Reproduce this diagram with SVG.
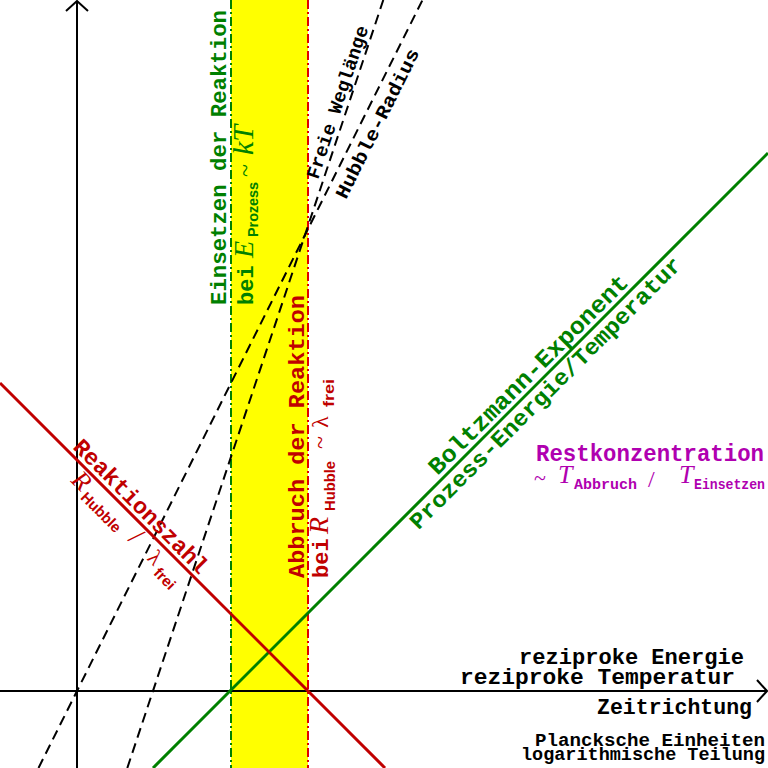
<svg xmlns="http://www.w3.org/2000/svg" width="768" height="768" viewBox="0 0 768 768">
<style>
.m{font-family:"Liberation Mono","Courier New",monospace;font-weight:bold;font-size:22px}
.ms{font-family:"Liberation Mono","Courier New",monospace;font-weight:bold;font-size:15px}
.si{font-family:"Liberation Serif","Times New Roman",serif;font-style:italic;font-size:26px}
.s{font-family:"Liberation Serif","Times New Roman",serif;font-size:24px}
.sub{font-family:"Liberation Sans",Arial,sans-serif;font-weight:bold;font-size:14px}
.g{fill:#008000}.r{fill:#c00000}.k{fill:#000}.p{fill:#b000b0}
.ax{stroke:#000;stroke-width:2;fill:none}
.dash{stroke:#000;stroke-width:2;stroke-dasharray:10,6;fill:none}
</style>
<rect x="0" y="0" width="768" height="768" fill="#fff"/>
<g id="band">
<rect x="231" y="0" width="77" height="768" fill="#ffff00"/>
</g>
<g id="connectors">
<line x1="231" y1="0" x2="231" y2="768" stroke="#008000" stroke-width="2" stroke-dasharray="9,3,2,3"/>
<line x1="308" y1="0" x2="308" y2="768" stroke="#e00000" stroke-width="2" stroke-dasharray="9,3,2,3"/>
<line class="ax" x1="77" y1="768" x2="77" y2="1"/>
<polyline class="ax" points="66,11 77,1 88,11"/>
<line class="ax" x1="0" y1="691" x2="767" y2="691"/>
<polyline class="ax" points="757,680 767,691 757,702"/>
<line class="dash" x1="38.5" y1="768" x2="422.5" y2="0"/>
<line class="dash" x1="127.3" y1="768" x2="383.3" y2="0"/>
<line x1="153" y1="768" x2="768" y2="153" stroke="#008000" stroke-width="3"/>
<line x1="0" y1="383" x2="385" y2="768" stroke="#c00000" stroke-width="3"/>
</g>
<g id="einsetzen" transform="translate(226,305) rotate(-90)">
<text class="m g" x="0" y="0" textLength="295" lengthAdjust="spacingAndGlyphs">Einsetzen der Reaktion</text>
</g>
<g id="einsetzen-bei" transform="translate(253,305) rotate(-90)">
<text class="m g" x="0" y="0">bei</text>
<text class="si g" x="47" y="0" style="font-size:28px">E</text>
<text class="sub g" x="68" y="5" textLength="55" lengthAdjust="spacingAndGlyphs">Prozess</text>
<text class="s g" x="128" y="0">~</text>
<text class="si g" x="150" y="0" style="font-size:30px">kT</text>
</g>
<g id="abbruch" transform="translate(304,578) rotate(-90)">
<text class="m r" x="0" y="0" textLength="283" lengthAdjust="spacingAndGlyphs">Abbruch der Reaktion</text>
</g>
<g id="abbruch-bei" transform="translate(328,578) rotate(-90)">
<text class="m r" x="0" y="0">bei</text>
<text class="si r" x="44" y="0" style="font-size:28px">R</text>
<text class="sub r" x="67" y="7" textLength="50" lengthAdjust="spacingAndGlyphs">Hubble</text>
<text class="s r" x="129" y="0">~</text>
<text class="s r" x="150" y="0">λ</text>
<text class="sub r" x="171" y="6" textLength="28" lengthAdjust="spacingAndGlyphs">frei</text>
</g>
<g id="freie-weglaenge" transform="translate(318,180) rotate(-71.57)">
<text class="m k" x="0" y="0" style="font-size:19px" textLength="160" lengthAdjust="spacingAndGlyphs">Freie Weglänge</text>
</g>
<g id="hubble-radius" transform="translate(346,200) rotate(-63.43)">
<text class="m k" x="0" y="0" style="font-size:19px" textLength="165" lengthAdjust="spacingAndGlyphs">Hubble-Radius</text>
</g>
<g id="reaktionszahl" transform="translate(77,460) rotate(45)">
<text class="m r" x="-12" y="-5" style="font-size:23px" textLength="180" lengthAdjust="spacingAndGlyphs">Reaktionszahl</text>
<text class="si r" x="10" y="20" style="font-size:26px">R</text>
<text class="sub r" x="29" y="25" style="font-size:15px" textLength="50" lengthAdjust="spacingAndGlyphs">Hubble</text>
<text class="s r" x="92" y="21" style="font-size:28px">/</text>
<text class="s r" x="119" y="21" style="font-size:22px">λ</text>
<text class="sub r" x="134" y="27" style="font-size:15px" textLength="24" lengthAdjust="spacingAndGlyphs">frei</text>
</g>
<g id="boltzmann" transform="translate(231,691) rotate(-45)">
<text class="m g" x="298" y="-6" style="font-size:24px" textLength="272" lengthAdjust="spacingAndGlyphs">Boltzmann-Exponent</text>
<text class="m g" x="246" y="19" style="font-size:23px" textLength="374" lengthAdjust="spacingAndGlyphs">Prozess-Energie/Temperatur</text>
</g>
<g id="restkonzentration">
<text class="m p" x="536" y="461" style="font-size:23px" textLength="228" lengthAdjust="spacingAndGlyphs">Restkonzentration</text>
<text class="s p" x="534" y="485" style="font-size:22px">~</text>
<text class="si p" x="558" y="483" style="font-size:26px">T</text>
<text class="ms p" x="574" y="489" textLength="63" lengthAdjust="spacingAndGlyphs">Abbruch</text>
<text class="s p" x="648" y="487" style="font-size:24px">/</text>
<text class="si p" x="679" y="483" style="font-size:26px">T</text>
<text class="ms p" x="694" y="489" textLength="71" lengthAdjust="spacingAndGlyphs">Einsetzen</text>
</g>
<g id="axis-labels">
<text class="m k" x="519" y="664" textLength="225" lengthAdjust="spacingAndGlyphs">reziproke Energie</text>
<text class="m k" x="460" y="684" textLength="275" lengthAdjust="spacingAndGlyphs">reziproke Temperatur</text>
<text class="m k" x="597" y="714" textLength="155" lengthAdjust="spacingAndGlyphs">Zeitrichtung</text>
<text class="m k" x="535" y="746" style="font-size:19px" textLength="230" lengthAdjust="spacingAndGlyphs">Plancksche Einheiten</text>
<text class="m k" x="521" y="760" style="font-size:19px" textLength="244" lengthAdjust="spacingAndGlyphs">logarithmische Teilung</text>
</g>
</svg>
